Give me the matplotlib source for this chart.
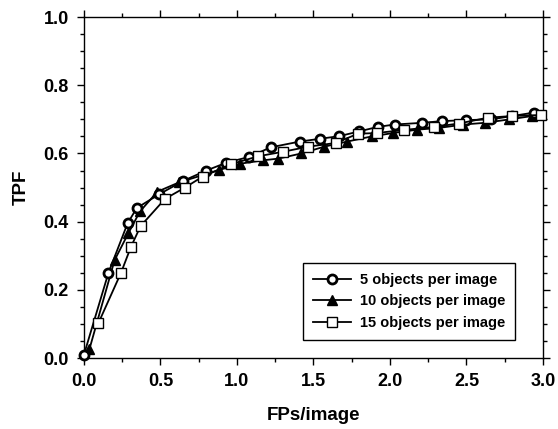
import numpy as np
import matplotlib
matplotlib.use("Agg")
import matplotlib.pyplot as plt
from matplotlib.ticker import MultipleLocator

plt.rcParams['font.family'] = ['Liberation Sans', 'DejaVu Sans']
plt.rcParams['font.weight'] = 'bold'

# FROC points for each object density
fp_5 = [0.0, 0.16, 0.285, 0.345, 0.49, 0.65, 0.80, 0.93, 1.08, 1.22, 1.41, 1.54,
        1.67, 1.80, 1.92, 2.03, 2.21, 2.34, 2.50, 2.66, 2.80, 2.94]
tpf_5 = [0.01, 0.25, 0.395, 0.44, 0.48, 0.52, 0.55, 0.573, 0.59, 0.618, 0.635, 0.643,
         0.651, 0.665, 0.678, 0.685, 0.69, 0.695, 0.698, 0.70, 0.71, 0.72]

fp_10 = [0.035, 0.20, 0.29, 0.366, 0.48, 0.62, 0.88, 1.02, 1.17, 1.27, 1.42, 1.57,
         1.72, 1.88, 2.02, 2.18, 2.32, 2.48, 2.62, 2.78, 2.93]
tpf_10 = [0.025, 0.287, 0.366, 0.43, 0.488, 0.515, 0.551, 0.57, 0.58, 0.585, 0.60, 0.62,
          0.635, 0.65, 0.66, 0.67, 0.675, 0.685, 0.69, 0.70, 0.71]

fp_15 = [0.094, 0.242, 0.307, 0.37, 0.53, 0.66, 0.775, 0.963, 1.14, 1.30, 1.466, 1.647,
         1.79, 1.913, 2.09, 2.29, 2.45, 2.64, 2.80, 2.99]
tpf_15 = [0.102, 0.25, 0.326, 0.387, 0.467, 0.50, 0.532, 0.569, 0.592, 0.605, 0.62, 0.631,
          0.658, 0.66, 0.669, 0.678, 0.688, 0.705, 0.71, 0.713]

fig = plt.figure(figsize=(5.58, 4.29), dpi=100)
ax = fig.add_axes([0.1505, 0.1655, 0.8225, 0.7945])

ax.plot(fp_10, tpf_10, color='black', lw=1.3, marker='^', ms=6.5,
        mfc='black', mec='black', label='10 objects per image', zorder=2, clip_on=False)
ax.plot(fp_5, tpf_5, color='black', lw=1.3, marker='o', ms=6.5, mew=2.0,
        mfc='white', mec='black', label='5 objects per image', zorder=3, clip_on=False)
ax.plot(fp_15, tpf_15, color='black', lw=1.3, marker='s', ms=7, mew=1.0,
        mfc='white', mec='black', label='15 objects per image', zorder=4, clip_on=False)

ax.set_xlim(0, 3.0)
ax.set_ylim(0, 1.0)
ax.xaxis.set_major_locator(MultipleLocator(0.5))
ax.xaxis.set_minor_locator(MultipleLocator(0.25))
ax.yaxis.set_major_locator(MultipleLocator(0.2))
ax.yaxis.set_minor_locator(MultipleLocator(0.05))
ax.xaxis.set_major_formatter(plt.FormatStrFormatter('%.1f'))
ax.yaxis.set_major_formatter(plt.FormatStrFormatter('%.1f'))

ax.tick_params(which='both', direction='out', top=True, right=True,
               color='black', width=1.0)
ax.tick_params(which='major', length=5, labelsize=13, pad=6)
ax.tick_params(which='minor', length=3)
for lab in ax.get_xticklabels() + ax.get_yticklabels():
    lab.set_fontweight('bold')
for sp in ax.spines.values():
    sp.set_linewidth(1.0)

ax.set_xlabel('FPs/image', fontsize=13.5, fontweight='bold', labelpad=12)
ax.set_ylabel('TPF', fontsize=13.5, fontweight='bold', labelpad=10)

handles, labels = ax.get_legend_handles_labels()
order = [1, 0, 2]
leg = ax.legend([handles[i] for i in order], [labels[i] for i in order],
                loc='upper left', bbox_to_anchor=(0.477, 0.279), borderaxespad=0,
                fancybox=False, framealpha=1, edgecolor='black',
                handlelength=2.6, handletextpad=0.6, labelspacing=0.5,
                borderpad=0.7, prop={'weight': 'bold', 'size': 10.5})
leg.get_frame().set_linewidth(1.0)

fig.savefig('out.png', dpi=100)
